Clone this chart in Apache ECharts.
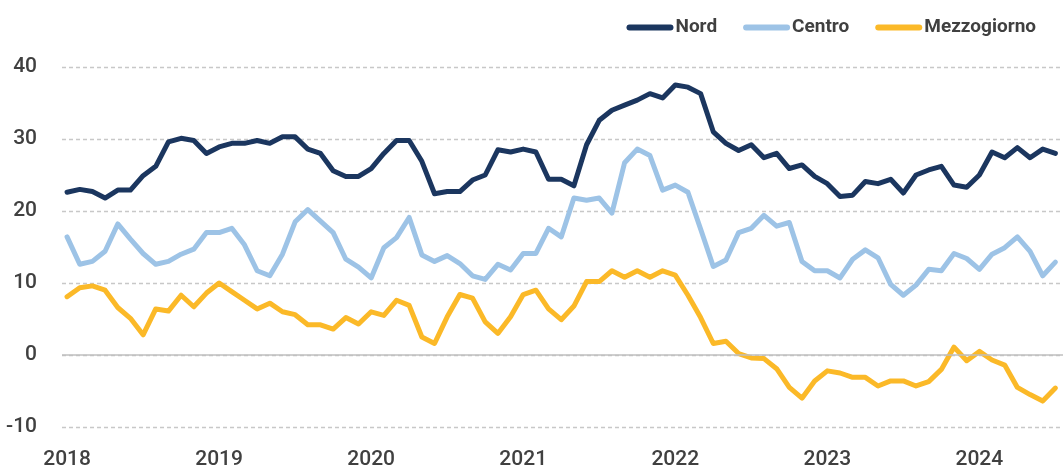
<!DOCTYPE html>
<html>
<head>
<meta charset="utf-8">
<script src="https://cdn.jsdelivr.net/npm/echarts@6/dist/echarts.min.js"></script>
<style>
  html, body { margin: 0; padding: 0; background: #fff; }
  #chart { width: 1063px; height: 473px; }
</style>
</head>
<body>
<div id="chart"></div>
<script>
// dati mensili gen 2018 - lug 2024
const years = ['2018', '2019', '2020', '2021', '2022', '2023', '2024']
const yTicks = [-10, 0, 10, 20, 30, 40]

const nord = [
  22.6, 23.0, 22.7, 21.8, 22.9, 22.9, 24.9, 26.2, 29.6, 30.1, 29.8, 28.0,
  28.9, 29.4, 29.4, 29.8, 29.4, 30.3, 30.3, 28.6, 28.0, 25.6, 24.8, 24.8,
  25.9, 28.0, 29.8, 29.8, 26.9, 22.4, 22.7, 22.7, 24.3, 25.0, 28.5, 28.2,
  28.6, 28.2, 24.4, 24.4, 23.5, 29.2, 32.6, 34.0, 34.7, 35.4, 36.3, 35.7,
  37.5, 37.2, 36.3, 31.0, 29.4, 28.4, 29.2, 27.4, 28.0, 25.9, 26.4, 24.8,
  23.8, 22.0, 22.2, 24.1, 23.8, 24.4, 22.5, 25.0, 25.7, 26.2, 23.6, 23.3,
  25.0, 28.2, 27.4, 28.8, 27.4, 28.6, 28.0
]
const centro = [
  16.4, 12.6, 13.0, 14.4, 18.2, 16.1, 14.1, 12.6, 13.0, 14.0, 14.7, 17.0,
  17.0, 17.6, 15.3, 11.7, 11.0, 14.0, 18.5, 20.2, 18.6, 17.0, 13.3, 12.2,
  10.7, 14.9, 16.3, 19.1, 13.9, 13.0, 13.8, 12.7, 11.0, 10.5, 12.6, 11.8,
  14.1, 14.1, 17.6, 16.4, 21.8, 21.5, 21.8, 19.7, 26.7, 28.6, 27.7, 22.9,
  23.6, 22.6, 17.5, 12.3, 13.2, 17.0, 17.6, 19.4, 17.9, 18.4, 13.0, 11.7,
  11.7, 10.7, 13.3, 14.6, 13.5, 9.8, 8.3, 9.7, 11.9, 11.7, 14.1, 13.4,
  11.9, 14.0, 14.9, 16.4, 14.4, 11.0, 12.9
]
const mezzogiorno = [
  8.1, 9.35, 9.6, 9.0, 6.6, 5.1, 2.8, 6.4, 6.1, 8.3, 6.7, 8.6,
  10.0, 8.8, 7.6, 6.4, 7.2, 6.0, 5.6, 4.2, 4.2, 3.6, 5.2, 4.3,
  6.0, 5.5, 7.6, 6.9, 2.5, 1.6, 5.3, 8.4, 7.9, 4.6, 3.0, 5.3,
  8.4, 9.0, 6.4, 4.9, 6.8, 10.2, 10.2, 11.7, 10.8, 11.7, 10.8, 11.7,
  11.1, 8.3, 5.2, 1.6, 1.9, 0.2, -0.4, -0.5, -1.9, -4.5, -6.0, -3.6,
  -2.2, -2.5, -3.1, -3.1, -4.3, -3.6, -3.6, -4.3, -3.7, -2.0, 1.1, -0.8,
  0.5, -0.7, -1.4, -4.5, -5.5, -6.4, -4.6
]

const font = 'Roboto, sans-serif'
const textColor = '#404040'
const pill = 'path://M3,0 L44,0 A3,3 0 0 1 44,6 L3,6 A3,3 0 0 1 3,0 Z'

const toPoints = arr => arr.map((v, i) => [i, v])
const yearTicks = years.map((y, k) => k * 12)

const lineSeries = (name, data, color) => ({
  name: name,
  type: 'line',
  data: toPoints(data),
  symbol: 'none',
  z: 3,
  lineStyle: { color: color, width: 5, cap: 'round', join: 'round' },
  itemStyle: { color: color },
})

let option = {
  animation: false,
  backgroundColor: '#fff',
  textStyle: { fontFamily: font },
  grid: { left: 62, right: 0, top: 67, bottom: 46 },
  legend: {
    data: ['Nord', 'Centro', 'Mezzogiorno'],
    right: 22,
    top: 13,
    icon: pill,
    itemWidth: 47,
    itemHeight: 6,
    itemGap: 26,
    textStyle: { fontFamily: font, fontSize: 19, fontWeight: 'bold', color: textColor, padding: [0, 0, 0, -3] },
  },
  xAxis: {
    type: 'value',
    min: -0.4,
    max: 78.6,
    axisLine: { show: false },
    axisTick: { show: false },
    splitLine: { show: false },
    axisLabel: {
      customValues: yearTicks,
      formatter: v => years[Math.round(v / 12)],
      fontSize: 21,
      fontWeight: 500,
      color: textColor,
      margin: 22,
      fontFamily: font,
    },
  },
  yAxis: {
    type: 'value',
    min: yTicks[0],
    max: yTicks[yTicks.length - 1],
    interval: 10,
    axisLine: { show: false },
    axisTick: { show: false },
    axisLabel: { fontSize: 21, fontWeight: 500, color: textColor, margin: 25, fontFamily: font },
    splitLine: { lineStyle: { color: '#c8c8c8', width: 1.3, type: [4, 3] } },
  },
  series: [
    {
      name: 'zero',
      type: 'line',
      data: [],
      z: 1,
      markLine: {
        silent: true,
        symbol: 'none',
        label: { show: false },
        lineStyle: { color: '#bfbfbf', type: 'solid', width: 1.5 },
        data: [{ yAxis: 0 }],
      },
    },
    lineSeries('Nord', nord, '#1b365f'),
    lineSeries('Centro', centro, '#9dc3e6'),
    lineSeries('Mezzogiorno', mezzogiorno, '#fbb928'),
  ],
}

let myChart = echarts.init(document.getElementById('chart'))
myChart.setOption(option)
</script>
</body>
</html>
